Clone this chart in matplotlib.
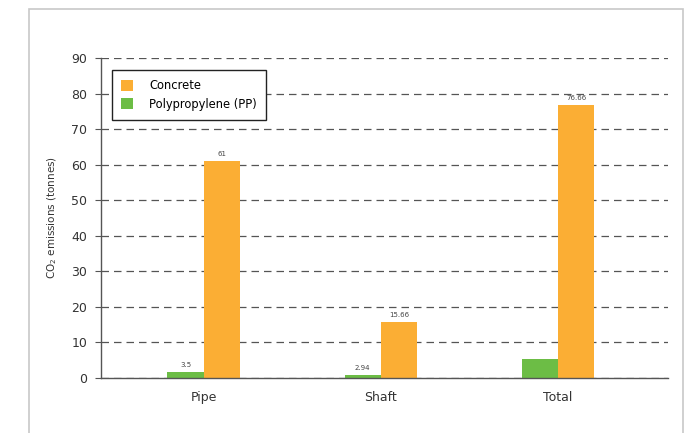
import numpy as np
import matplotlib
matplotlib.use('Agg')
import matplotlib.pyplot as plt
from matplotlib.patches import Rectangle

categories = ['Pipe', 'Shaft', 'Total']
concrete = [61, 15.66, 76.66]
pp = [1.6, 0.8, 5.4]
concrete_labels = ['61', '15.66', '76.66']
pp_labels = ['3.5', '2.94', '']

plt.rcParams['font.family'] = ['DejaVu Sans']

fig = plt.figure(figsize=(6.93, 4.33), dpi=100)
ax = fig.add_axes([0.1457, 0.127, 0.818, 0.739])

# light frame around the chart area
fig.add_artist(Rectangle((29 / 693, -0.1), 654 / 693, 1 - 9 / 433 + 0.1,
                         transform=fig.transFigure, fill=False,
                         edgecolor='#c8c8c8', linewidth=1.2))

x = np.arange(len(categories))
w = 0.205
b1 = ax.bar(x - w / 2, pp, w, color='#6cbd45', label='Polypropylene (PP)', zorder=3)
b2 = ax.bar(x + w / 2, concrete, w, color='#fbae34', label='Concrete', zorder=3)

for rect, lab in zip(b1, pp_labels):
    if lab:
        ax.text(rect.get_x() + rect.get_width() / 2, rect.get_height() + 1.2, lab,
                ha='center', va='bottom', fontsize=5, color='#444444')
for rect, lab in zip(b2, concrete_labels):
    ax.text(rect.get_x() + rect.get_width() / 2, rect.get_height() + 1.2, lab,
            ha='center', va='bottom', fontsize=5, color='#444444')

ax.set_ylim(0, 90)
ax.set_xlim(-0.58, 2.62)
ax.set_yticks(range(0, 91, 10))
ax.set_xticks(x)
ax.set_xticklabels(categories)
ax.yaxis.grid(True, linestyle=(0, (6, 4)), color='#555555', linewidth=0.9, zorder=0)
ax.set_axisbelow(True)

for s in ['top', 'right']:
    ax.spines[s].set_visible(False)
for s in ['left', 'bottom']:
    ax.spines[s].set_color('#555555')
    ax.spines[s].set_linewidth(1.0)
ax.spines['bottom'].set_zorder(4)

ax.tick_params(axis='y', direction='out', length=4, color='#555555',
               labelsize=9, labelcolor='#333333', pad=6)
ax.tick_params(axis='x', length=0, labelsize=9, labelcolor='#333333', pad=9)

ax.set_ylabel('CO$_2$ emissions (tonnes)', fontsize=7.5, color='#333333', labelpad=9)

handles, labels = ax.get_legend_handles_labels()
leg = ax.legend(handles[::-1], labels[::-1], loc='upper left',
                bbox_to_anchor=(0.019, 0.962), fontsize=8.3, frameon=True,
                fancybox=False, edgecolor='#222222', framealpha=1,
                handlelength=1.05, handleheight=1.05, borderpad=0.8,
                labelspacing=0.45, handletextpad=1.4, borderaxespad=0)
leg.get_frame().set_linewidth(1.0)

fig.savefig('out.png', dpi=100)
